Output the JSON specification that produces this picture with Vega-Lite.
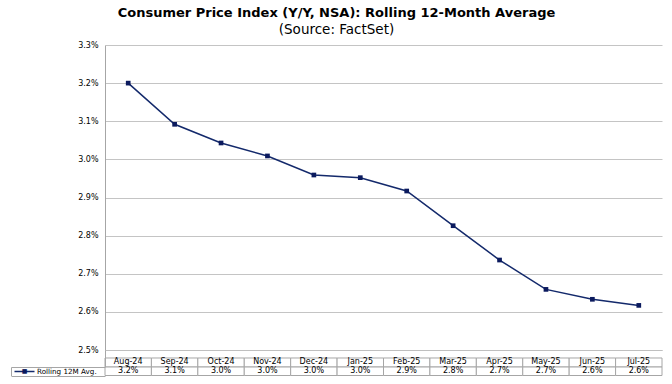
{
  "$schema": "https://vega.github.io/schema/vega-lite/v6.json",
  "padding": {"left": 10, "top": 7, "right": 10, "bottom": 8},
  "background": "white",
  "config": {"view": {"stroke": null}, "font": "DejaVu Sans"},
  "title": {
    "text": "Consumer Price Index (Y/Y, NSA): Rolling 12-Month Average",
    "subtitle": "(Source: FactSet)",
    "anchor": "middle",
    "font": "DejaVu Sans",
    "fontSize": 13,
    "fontWeight": "bold",
    "color": "black",
    "subtitleFont": "DejaVu Sans",
    "subtitleFontSize": 13.5,
    "subtitleColor": "black",
    "subtitlePadding": 2.5,
    "offset": 5
  },
  "data": {
    "values": [
      {"month": "Aug-24", "value": 0.03200, "series": "Rolling 12M Avg."},
      {"month": "Sep-24", "value": 0.03092, "series": "Rolling 12M Avg."},
      {"month": "Oct-24", "value": 0.03043, "series": "Rolling 12M Avg."},
      {"month": "Nov-24", "value": 0.03009, "series": "Rolling 12M Avg."},
      {"month": "Dec-24", "value": 0.02959, "series": "Rolling 12M Avg."},
      {"month": "Jan-25", "value": 0.02952, "series": "Rolling 12M Avg."},
      {"month": "Feb-25", "value": 0.02917, "series": "Rolling 12M Avg."},
      {"month": "Mar-25", "value": 0.02826, "series": "Rolling 12M Avg."},
      {"month": "Apr-25", "value": 0.02736, "series": "Rolling 12M Avg."},
      {"month": "May-25", "value": 0.02659, "series": "Rolling 12M Avg."},
      {"month": "Jun-25", "value": 0.02633, "series": "Rolling 12M Avg."},
      {"month": "Jul-25", "value": 0.02617, "series": "Rolling 12M Avg."}
    ]
  },
  "spacing": 0,
  "bounds": "flush",
  "vconcat": [
    {
      "width": 557,
      "height": 305,
      "encoding": {
        "x": {
          "field": "month", "type": "ordinal", "sort": null, "bandPosition": 0.5,
          "scale": {"type": "band", "paddingInner": 0, "paddingOuter": 0},
          "axis": {
            "title": null, "orient": "bottom", "ticks": false,
            "domainColor": "#bfbfbf", "labels": false, "grid": false
          }
        },
        "y": {
          "field": "value", "type": "quantitative",
          "scale": {"domain": [0.025, 0.033], "zero": false, "nice": false},
          "axis": {
            "title": null, "values": [0.025, 0.026, 0.027, 0.028, 0.029, 0.030, 0.031, 0.032, 0.033],
            "format": ".1%", "grid": true, "gridColor": "#c4c4c4", "ticks": false,
            "domain": true, "domainColor": "#a6a6a6", "labelPadding": 7,
            "labelFont": "DejaVu Sans", "labelFontSize": 8, "labelColor": "black"
          }
        }
      },
      "layer": [
        {"mark": {"type": "line", "color": "#13296b", "strokeWidth": 1.5}},
        {"mark": {"type": "point", "shape": "square", "filled": true, "size": 22, "color": "#0b1a5e", "opacity": 1}}
      ]
    },
    {
      "width": 557,
      "height": 17,
      "encoding": {
        "x": {
          "field": "month", "type": "ordinal", "sort": null,
          "scale": {"type": "band", "paddingInner": 0, "paddingOuter": 0},
          "axis": null
        },
        "y": {
          "datum": "header", "type": "nominal",
          "scale": {"type": "band", "paddingInner": 0, "paddingOuter": 0.4444, "align": 1},
          "axis": {"title": null, "ticks": false, "labels": false, "domain": true, "domainColor": "#a6a6a6"}
        }
      },
      "layer": [
        {"mark": {"type": "rect", "fill": "white", "stroke": "#a6a6a6", "strokeWidth": 1}},
        {
          "mark": {"type": "text", "font": "DejaVu Sans", "fontSize": 8, "color": "black", "baseline": "middle"},
          "encoding": {"text": {"field": "month", "type": "nominal"}}
        }
      ]
    },
    {
      "width": 557,
      "height": 8.5,
      "layer": [
        {
          "mark": {"type": "rect", "fill": "white", "stroke": "#a6a6a6", "strokeWidth": 1},
          "encoding": {
            "x": {
              "field": "month", "type": "ordinal", "sort": null,
              "scale": {"type": "band", "paddingInner": 0, "paddingOuter": 0},
              "axis": null
            },
            "y": {
              "field": "series", "type": "nominal",
              "scale": {"type": "band", "paddingInner": 0, "paddingOuter": 0},
              "axis": {
                "title": null, "orient": "left", "offset": 94, "tickBand": "extent", "tickSize": -94,
                "tickColor": "#a6a6a6", "domainColor": "#a6a6a6", "labelAlign": "left",
                "labelPadding": 68.5,
                "labelFont": "DejaVu Sans", "labelFontSize": 7.2, "labelColor": "black"
              }
            }
          }
        },
        {
          "mark": {"type": "text", "font": "DejaVu Sans", "fontSize": 8, "color": "black", "baseline": "middle"},
          "encoding": {
            "x": {
              "field": "month", "type": "ordinal", "sort": null,
              "scale": {"type": "band", "paddingInner": 0, "paddingOuter": 0},
              "axis": null
            },
            "y": {
              "field": "series", "type": "nominal",
              "scale": {"type": "band", "paddingInner": 0, "paddingOuter": 0},
              "axis": null
            },
            "text": {"field": "value", "type": "quantitative", "format": ".1%"}
          }
        },
        {
          "mark": {"type": "rect", "opacity": 0},
          "encoding": {
            "y": {
              "field": "series", "type": "nominal",
              "scale": {"type": "band", "paddingInner": 0, "paddingOuter": 0},
              "axis": {
                "title": null, "orient": "left", "offset": 71, "domain": false,
                "tickSize": 20, "tickWidth": 1.5, "tickColor": "#13296b",
                "labelExpr": "'■'", "labelAlign": "center", "labelPadding": -10,
                "labelFont": "DejaVu Sans", "labelFontSize": 6, "labelColor": "#0b1a5e"
              }
            }
          }
        }
      ],
      "resolve": {"scale": {"y": "independent"}, "axis": {"y": "independent"}}
    }
  ]
}
